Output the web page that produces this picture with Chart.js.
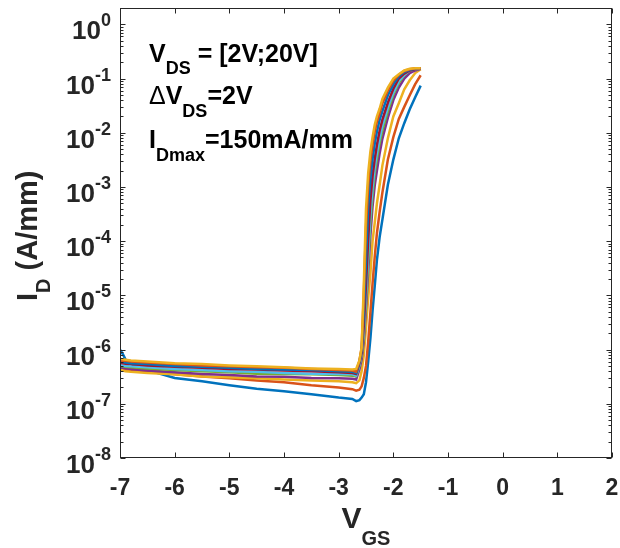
<!DOCTYPE html>
<html>
<head>
<meta charset="utf-8">
<script src="https://cdn.jsdelivr.net/npm/chart.js@4.4.1/dist/chart.umd.min.js"></script>
<style>
  html, body { margin: 0; background: #fff; }
  #wrap { width: 620px; height: 548px; }
</style>
</head>
<body>
<div id="wrap"><canvas id="chart"></canvas></div>
<script>
// Gate voltage points (V)
const vgs = [-7, -6.95, -6.9, -6.8, -6.5, -6, -5.5, -5, -4.5, -4, -3.5, -3, -2.75, -2.68,
  -2.62, -2.58, -2.54, -2.5, -2.46, -2.42, -2.38, -2.34, -2.3, -2.25, -2.2, -2.1, -2.0, -1.9, -1.8, -1.7, -1.6, -1.5];

// Drain current (A/mm), one curve per VDS step
const id2V = [1.0e-6, 8.3e-7, 6.6e-7, 5.4e-7, 4.2e-7, 3.0e-7, 2.6e-7, 2.2e-7, 1.9e-7, 1.7e-7, 1.5e-7, 1.3e-7, 1.23e-7, 1.12e-7,
  1.17e-7, 1.3e-7, 1.5e-7, 2.5e-7, 6.0e-7, 1.6e-6, 5.2e-6, 1.5e-5, 4.5e-5, 1.2e-4, 2.5e-4, 1.1e-3, 3.2e-3, 7.9e-3, 1.5e-2, 2.7e-2, 4.5e-2, 7.4e-2];
const id4V = [4.7e-7, 4.5e-7, 4.3e-7, 4.2e-7, 3.9e-7, 3.5e-7, 3.2e-7, 2.95e-7, 2.7e-7, 2.5e-7, 2.2e-7, 2.0e-7, 1.86e-7, 1.74e-7,
  1.82e-7, 2.1e-7, 3.0e-7, 5.0e-7, 1.4e-6, 4.8e-6, 1.66e-5, 5.2e-5, 1.4e-4, 3.5e-4, 7.9e-4, 3.2e-3, 8.3e-3, 1.8e-2, 3.0e-2, 4.9e-2, 7.9e-2, 1.15e-1];
const id6V = [4.2e-7, 4.1e-7, 4.0e-7, 3.9e-7, 3.7e-7, 3.5e-7, 3.2e-7, 3.1e-7, 2.95e-7, 2.8e-7, 2.7e-7, 2.6e-7, 2.5e-7, 2.4e-7,
  2.7e-7, 4.0e-7, 7.9e-7, 2.5e-6, 8.9e-6, 2.5e-5, 1.0e-4, 2.2e-4, 5.0e-4, 1.1e-3, 2.5e-3, 7.9e-3, 2.0e-2, 3.5e-2, 6.3e-2, 9.3e-2, 0.126, 0.148];
const id8V = [4.7e-7, 4.6e-7, 4.5e-7, 4.4e-7, 4.1e-7, 3.8e-7, 3.55e-7, 3.4e-7, 3.2e-7, 3.15e-7, 3.0e-7, 2.95e-7, 2.9e-7, 2.8e-7,
  4.3e-7, 6.6e-7, 1.45e-6, 5.9e-6, 2.75e-5, 1.26e-4, 4.4e-4, 1.07e-3, 2.0e-3, 4.2e-3, 7.8e-3, 1.9e-2, 4.0e-2, 6.8e-2, 0.1, 0.126, 0.141, 0.151];
const id10V = [5.0e-7, 4.9e-7, 4.8e-7, 4.7e-7, 4.5e-7, 4.2e-7, 4.0e-7, 3.8e-7, 3.6e-7, 3.55e-7, 3.5e-7, 3.4e-7, 3.3e-7, 3.2e-7,
  5.0e-7, 7.9e-7, 1.8e-6, 7.9e-6, 4.0e-5, 2.1e-4, 7.1e-4, 1.8e-3, 3.3e-3, 6.5e-3, 1.1e-2, 2.5e-2, 5.0e-2, 8.3e-2, 0.115, 0.141, 0.148, 0.151];
const id12V = [5.2e-7, 5.1e-7, 5.0e-7, 4.9e-7, 4.7e-7, 4.4e-7, 4.2e-7, 4.0e-7, 3.9e-7, 3.7e-7, 3.6e-7, 3.55e-7, 3.5e-7, 3.3e-7,
  5.2e-7, 8.3e-7, 2.1e-6, 1.05e-5, 6.0e-5, 3.2e-4, 9.8e-4, 2.3e-3, 4.2e-3, 7.9e-3, 1.35e-2, 2.9e-2, 5.5e-2, 8.9e-2, 0.117, 0.141, 0.148, 0.151];
const id14V = [5.75e-7, 5.6e-7, 5.5e-7, 5.4e-7, 5.1e-7, 4.8e-7, 4.6e-7, 4.4e-7, 4.3e-7, 4.1e-7, 4.0e-7, 3.8e-7, 3.7e-7, 3.55e-7,
  5.6e-7, 8.7e-7, 2.8e-6, 1.6e-5, 1.1e-4, 5.6e-4, 1.6e-3, 3.3e-3, 6.0e-3, 1.1e-2, 1.74e-2, 3.6e-2, 6.5e-2, 0.1, 0.123, 0.141, 0.148, 0.151];
const id16V = [6.0e-7, 5.9e-7, 5.75e-7, 5.6e-7, 5.4e-7, 5.0e-7, 4.8e-7, 4.6e-7, 4.4e-7, 4.3e-7, 4.2e-7, 4.0e-7, 3.9e-7, 3.7e-7,
  6.0e-7, 9.8e-7, 4.9e-6, 4.3e-5, 4.3e-4, 1.4e-3, 3.3e-3, 6.3e-3, 1.05e-2, 1.74e-2, 2.5e-2, 4.9e-2, 7.9e-2, 0.11, 0.132, 0.145, 0.151, 0.155];
const id18V = [6.3e-7, 6.2e-7, 6.2e-7, 6.0e-7, 5.75e-7, 5.4e-7, 5.1e-7, 4.9e-7, 4.7e-7, 4.6e-7, 4.4e-7, 4.2e-7, 4.1e-7, 3.9e-7,
  6.2e-7, 1.07e-6, 1.05e-5, 1.8e-4, 1.07e-3, 3.0e-3, 6.0e-3, 1.05e-2, 1.6e-2, 2.3e-2, 3.5e-2, 6.0e-2, 9.1e-2, 0.117, 0.138, 0.148, 0.155, 0.155];
const id20V = [6.8e-7, 6.6e-7, 6.5e-7, 6.3e-7, 6.0e-7, 5.6e-7, 5.4e-7, 5.1e-7, 4.9e-7, 4.7e-7, 4.5e-7, 4.4e-7, 4.3e-7, 4.4e-7,
  6.3e-7, 1.1e-6, 1.6e-5, 4.0e-4, 1.8e-3, 4.5e-3, 8.3e-3, 1.4e-2, 2.0e-2, 2.8e-2, 4.2e-2, 6.8e-2, 0.1, 0.12, 0.141, 0.151, 0.155, 0.155];

const curves = [id2V, id4V, id6V, id8V, id10V, id12V, id14V, id16V, id18V, id20V];
const vdsLabels = ["2V", "4V", "6V", "8V", "10V", "12V", "14V", "16V", "18V", "20V"];

// Axis ticks
const xTicks = [-7, -6, -5, -4, -3, -2, -1, 0, 1, 2];
const yExponents = [-8, -7, -6, -5, -4, -3, -2, -1, 0];

// MATLAB default line colours
const colors = ["#0072BD", "#D95319", "#EDB120", "#7E2F8E", "#77AC30", "#4DBEEE", "#A2142F", "#0072BD", "#D95319", "#EDB120"];

const FONT = '"Liberation Sans", Arial, sans-serif';
const AXIS_COLOR = "#262626";

// draw text pieces, some of them lowered like subscripts
function drawPieces(ctx, pieces, x, y) {
    pieces.forEach(p => {
        ctx.font = p.font;
        ctx.fillText(p.text, x, y + (p.dy || 0));
        x += ctx.measureText(p.text).width;
    });
    return x;
}

const matlabAxes = {
    id: "matlabAxes",
    afterDatasetsDraw(chart) {
        const { ctx, chartArea: a, scales: { x, y } } = chart;
        ctx.save();
        ctx.strokeStyle = AXIS_COLOR;
        ctx.lineWidth = 1;
        const L = Math.round(a.left) + 0.5, R = Math.round(a.right) - 0.5;
        const T = Math.round(a.top) + 0.5, B = Math.round(a.bottom) - 0.5;
        ctx.strokeRect(L, T, R - L, B - T);

        ctx.beginPath();
        // x ticks, bottom and top, pointing in
        xTicks.forEach(v => {
            const px = Math.round(x.getPixelForValue(v)) + 0.5;
            ctx.moveTo(px, B); ctx.lineTo(px, B - 5);
            ctx.moveTo(px, T); ctx.lineTo(px, T + 5);
        });
        // y major and minor ticks, left and right
        yExponents.forEach(e => {
            for (let m = 1; m <= 9; m++) {
                const v = m * Math.pow(10, e);
                if (v > y.max) break;
                const py = Math.round(y.getPixelForValue(v)) + 0.5;
                const len = m === 1 ? 5 : 3;
                ctx.moveTo(L, py); ctx.lineTo(L + len, py);
                ctx.moveTo(R, py); ctx.lineTo(R - len, py);
            }
        });
        ctx.stroke();
        ctx.restore();
    },
    afterDraw(chart) {
        const { ctx, chartArea: a, scales: { x, y } } = chart;
        ctx.save();
        ctx.fillStyle = AXIS_COLOR;
        ctx.textBaseline = "alphabetic";

        // x tick labels
        ctx.font = "bold 23px " + FONT;
        ctx.textAlign = "center";
        xTicks.forEach(v => {
            ctx.fillText(String(v), x.getPixelForValue(v), a.bottom + 37);
        });

        // y tick labels 10^n
        ctx.textAlign = "right";
        yExponents.forEach(e => {
            const py = y.getPixelForValue(Math.pow(10, e));
            const right = a.left - 9;
            ctx.font = "bold 18px " + FONT;
            const expText = String(e);
            const w = ctx.measureText(expText).width;
            ctx.fillText(expText, right, py + 2);
            ctx.font = "bold 26px " + FONT;
            ctx.fillText("10", right - w, py + 15);
        });

        // x axis title
        ctx.textAlign = "left";
        const titleX = [
            { text: "V", font: "bold 30px " + FONT },
            { text: "GS", font: "bold 20px " + FONT, dy: 17 }
        ];
        let tw = 0;
        titleX.forEach(p => { ctx.font = p.font; tw += ctx.measureText(p.text).width; });
        drawPieces(ctx, titleX, (a.left + a.right) / 2 - tw / 2, a.bottom + 70);

        // y axis title (rotated)
        ctx.save();
        ctx.translate(37, 301);
        ctx.rotate(-Math.PI / 2);
        drawPieces(ctx, [
            { text: "I", font: "bold 29px " + FONT },
            { text: "D", font: "bold 20px " + FONT, dy: 13 },
            { text: " (A/mm)", font: "bold 29px " + FONT }
        ], 0, 0);
        ctx.restore();

        // annotation
        ctx.fillStyle = "#000";
        const ax = a.left + 29;
        const big = "bold 25px " + FONT, small = "bold 18px " + FONT;
        drawPieces(ctx, [
            { text: "V", font: big },
            { text: "DS", font: small, dy: 12 },
            { text: " = [2V;20V]", font: big }
        ], ax, a.top + 54);
        drawPieces(ctx, [
            { text: "\u0394", font: "25px " + FONT },
            { text: "V", font: big },
            { text: "DS", font: small, dy: 13 },
            { text: "=2V", font: big }
        ], ax, a.top + 96);
        drawPieces(ctx, [
            { text: "I", font: big },
            { text: "Dmax", font: small, dy: 13 },
            { text: "=150mA/mm", font: big }
        ], ax, a.top + 140);
        ctx.restore();
    }
};

new Chart(document.getElementById("chart"), {
    type: "line",
    data: {
        labels: vgs,
        datasets: curves.map((c, i) => ({
            label: "VDS = " + vdsLabels[i],
            data: vgs.map((v, j) => ({ x: v, y: c[j] })),
            borderColor: colors[i],
            backgroundColor: colors[i],
            borderWidth: 2.5,
            pointRadius: 0,
            tension: 0,
            fill: false,
            order: curves.length - i
        }))
    },
    options: {
        responsive: true,
        maintainAspectRatio: false,
        animation: false,
        layout: { padding: { left: 120, right: 8, top: 8, bottom: 90 } },
        plugins: { legend: { display: false }, tooltip: { enabled: false } },
        scales: {
            x: { type: "linear", min: -7, max: 2, display: false },
            y: { type: "logarithmic", min: 1e-8, max: 2, display: false }
        }
    },
    plugins: [matlabAxes]
});
</script>
</body>
</html>
